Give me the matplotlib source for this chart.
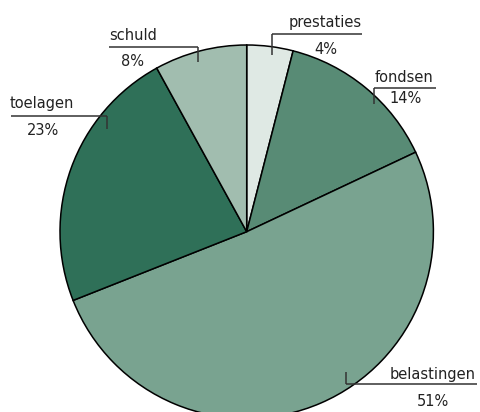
import matplotlib.pyplot as plt

# aandeel per bron (%)
categories = ['prestaties', 'fondsen', 'belastingen', 'toelagen', 'schuld']
shares = [4, 14, 51, 23, 8]
colors = ['#dfe9e4', '#588b75', '#79a390', '#2f7058', '#a1bdaf']

W, H = 480, 412

fig = plt.figure(figsize=(W / 100, H / 100), dpi=100)
ax = fig.add_axes([0, 0, 1, 1])

ax.pie(shares, colors=colors, startangle=90, counterclock=False,
       center=(246.7, H - 231.7), radius=186.7,
       wedgeprops=dict(edgecolor='black', linewidth=1.1))

ax.set_xlim(0, W)
ax.set_ylim(0, H)
ax.set_aspect('equal')
ax.axis('off')

line_kw = dict(color='#333333', linewidth=1.1, solid_capstyle='butt')
txt_kw = dict(color='#222222', fontsize=10.5, family='DejaVu Sans', va='center')

# label layout in pixel coords (y from top):
# name, x0, x1 of underline, y of underline, tick x, tick end y,
# name pos/align, percent pos
labels = {
    'schuld':      dict(line=(109, 198, 47), tick=(198, 62), name=(109, 35, 'left'), pct=(133, 61)),
    'toelagen':    dict(line=(11, 107, 116), tick=(107, 129), name=(10, 103, 'left'), pct=(43, 130)),
    'prestaties':  dict(line=(271.7, 362, 34.3), tick=(271.7, 55), name=(362, 22, 'right'), pct=(325.7, 49)),
    'fondsen':     dict(line=(374, 436, 88), tick=(374, 104), name=(375, 77.5, 'left'), pct=(405.7, 98)),
    'belastingen': dict(line=(346, 477, 384), tick=(346, 371.7), name=(476, 374, 'right'), pct=(432.7, 401)),
}

for cat, val in zip(categories, shares):
    p = labels[cat]
    x0, x1, yl = p['line']
    ax.plot([x0, x1], [H - yl, H - yl], **line_kw)
    tx, ty = p['tick']
    ax.plot([tx, tx], [H - yl, H - ty], **line_kw)
    nx, ny, ha = p['name']
    ax.text(nx, H - ny, cat, ha=ha, **txt_kw)
    px, py = p['pct']
    ax.text(px, H - py, f'{val}%', ha='center', **txt_kw)

fig.savefig('out.png', dpi=100)
